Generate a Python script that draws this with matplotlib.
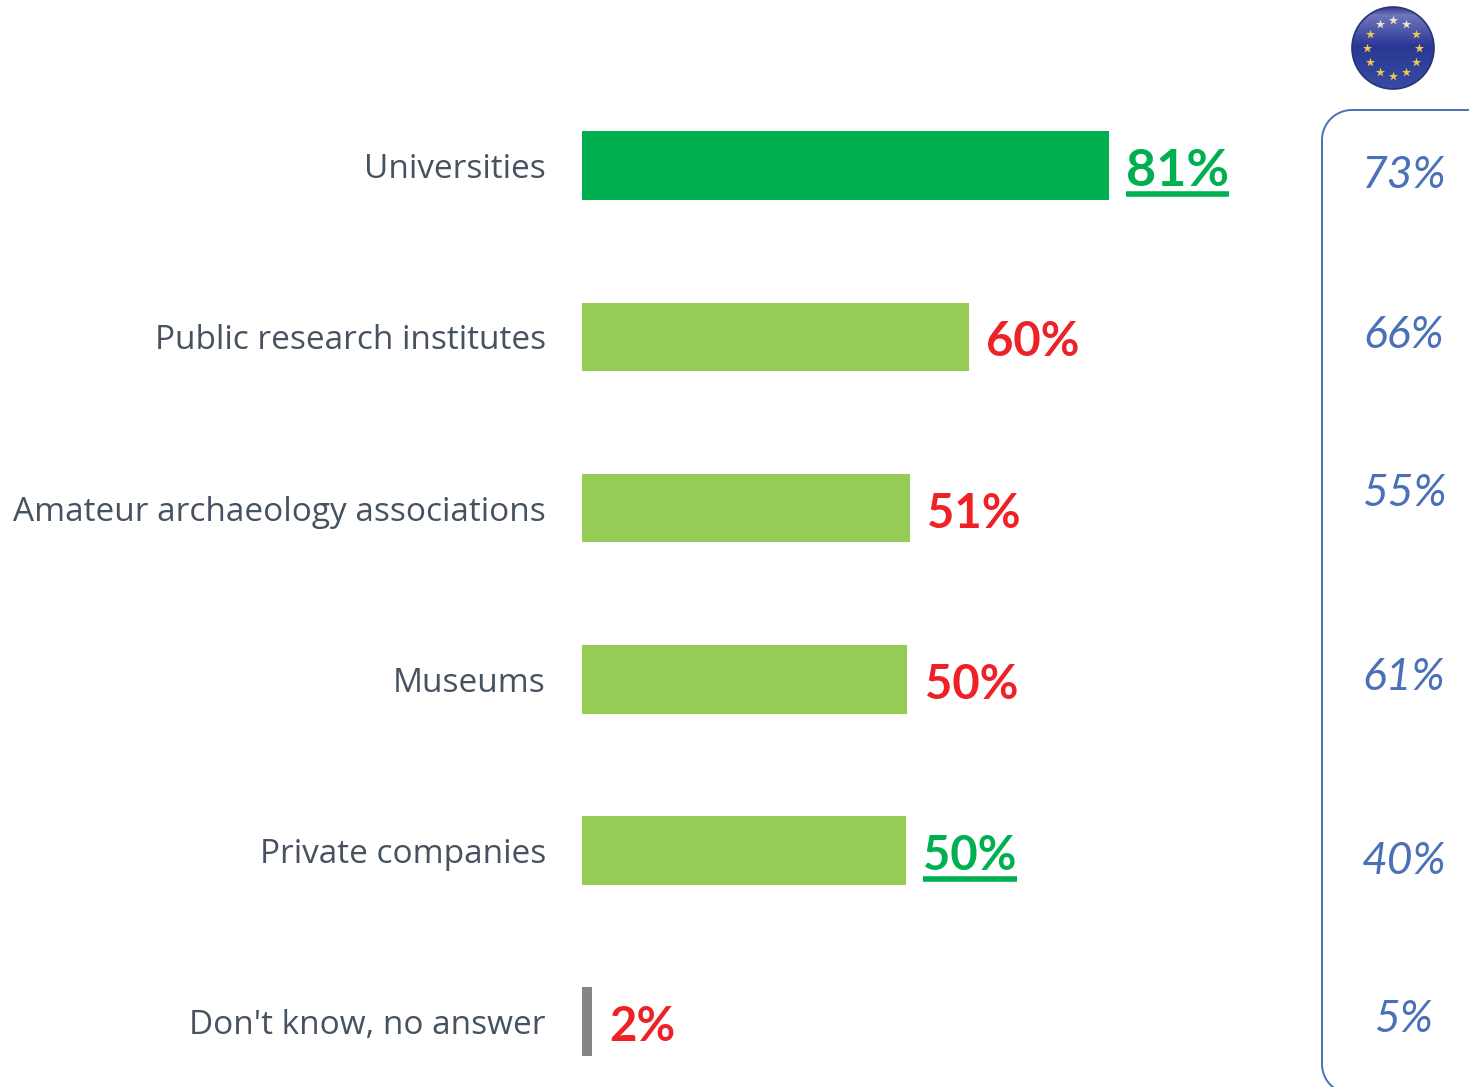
import numpy as np
import matplotlib
matplotlib.use("Agg")
import matplotlib.pyplot as plt
from matplotlib.patches import Circle

# ==== data ====
categories = ["Universities", "Public research institutes", "Amateur archaeology associations",
              "Museums", "Private companies", "Don't know, no answer"]
bar_values = [81.0, 59.5, 50.4, 50.0, 49.8, 1.5]
value_labels = ["81%", "60%", "51%", "50%", "50%", "2%"]
eu_labels = ["73%", "66%", "55%", "61%", "40%", "5%"]

# ==== colours ====
GREEN = "#00B050"
LIGHT_GREEN = "#96CB55"
GREY = "#858585"
RED = "#EE2126"
BLUE = "#4A70B8"
TEXT = "#465260"
bar_colors = [GREEN, LIGHT_GREEN, LIGHT_GREEN, LIGHT_GREEN, LIGHT_GREEN, GREY]
label_colors = [GREEN, RED, RED, RED, GREEN, RED]
label_sizes = [37.5, 34, 34, 34, 34, 34]
underlined = [True, False, False, False, True, False]

W, H = 1469, 1087
PX_PER_UNIT = 6.506
ROW = 171.2
ROW0 = 165.7
BAR_LEFT = 582

fig = plt.figure(figsize=(W / 100, H / 100), dpi=100, facecolor="white")

# bars: axes start at the bar base and run to the right edge
ax = fig.add_axes([BAR_LEFT / W, 0, 1 - BAR_LEFT / W, 1])
ax.set_xlim(0, (W - BAR_LEFT) / PX_PER_UNIT)
ax.set_ylim((H - ROW0) / ROW, -ROW0 / ROW)
for s in ax.spines.values():
    s.set_visible(False)
ax.patch.set_alpha(0)
ax.set_xticks([])

y = np.arange(len(categories))
ax.barh(y, bar_values, height=68.5 / ROW, color=bar_colors)
ax.set_yticks(y, categories, fontfamily="Open Sans", fontsize=24, color=TEXT)
ax.tick_params(axis="y", length=0, pad=26)

fig.canvas.draw()
rend = fig.canvas.get_renderer()

# value labels, a few underlined
for i, (v, lab, c, u, fs) in enumerate(zip(bar_values, value_labels, label_colors, underlined, label_sizes)):
    t = ax.annotate(lab, (v, i), xytext=(12.5, -4), textcoords="offset points",
                    ha="left", va="center", fontfamily="Lato", fontweight="bold",
                    fontsize=fs, color=c)
    if u:
        bb = t.get_window_extent(rend)
        x0, x1 = ax.transData.inverted().transform([(bb.x0, 0), (bb.x1, 0)])[:, 0]
        ax.hlines(i + 28 / ROW, x0, x1, color=c, lw=4)

# overlay in pixel coordinates for the EU column
ov = fig.add_axes([0, 0, 1, 1])
ov.set_xlim(0, W)
ov.set_ylim(H, 0)
ov.axis("off")
ov.patch.set_alpha(0)

# open outline running off the right and bottom edges
rad, lx, ty, by = 30, 1322, 110, 1064
th_top = np.linspace(np.pi / 2, np.pi, 30)
th_bot = np.linspace(np.pi, 1.3 * np.pi, 20)
bx = np.r_[W + 5, lx + rad + rad * np.cos(th_top), lx + rad + rad * np.cos(th_bot)]
by_ = np.r_[ty, ty + rad - rad * np.sin(th_top), by - rad * np.sin(th_bot)]
ov.plot(bx, by_, color=BLUE, lw=1.4)

eu_y = [176, 335, 493, 677, 861, 1020]
for lab, py in zip(eu_labels, eu_y):
    ov.text(1404, py, lab, ha="center", va="center", fontfamily="Lato", fontstyle="italic",
            fontsize=32, color=BLUE)

# EU flag badge
cx, cy, r = 1393, 48, 41
yy = np.linspace(-1, 1, 200)
ramp = np.stack([np.interp(yy, [-1, -0.8, -0.05, 1], chan) for chan in
                 ([0.20, 0.44, 0.16, 0.22], [0.24, 0.46, 0.22, 0.30], [0.55, 0.74, 0.58, 0.64])], axis=-1)
img = np.repeat(ramp[:, None, :], 4, axis=1)
im = ov.imshow(img, extent=(cx - r, cx + r, cy + r, cy - r), zorder=3, aspect="auto")
im.set_clip_path(Circle((cx, cy), r, transform=ov.transData))
ov.set_xlim(0, W)
ov.set_ylim(H, 0)
ov.add_patch(Circle((cx, cy), r, fc="none", ec="#2A3278", lw=1.2, zorder=4))
for a in np.deg2rad(np.arange(0, 360, 30)):
    sy = cy - 28 * np.cos(a)
    sx = cx + 26 * np.sin(a)
    col = "#EDE4CC" if sy < cy - 15 else "#F0C850"
    ov.scatter([sx], [sy], marker="*", s=48, color=col, lw=0, zorder=5)

fig.savefig("out.png", dpi=100)
